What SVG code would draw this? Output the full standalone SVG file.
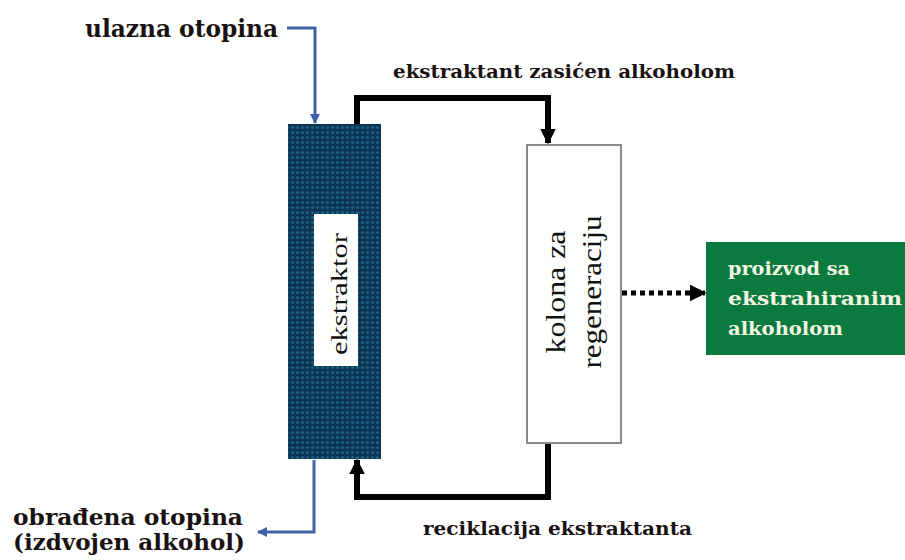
<svg xmlns="http://www.w3.org/2000/svg" width="905" height="560" viewBox="0 0 905 560">
<defs>
<pattern id="dots" width="5" height="5" patternUnits="userSpaceOnUse">
<rect width="5" height="5" fill="#0b3553"/>
<circle cx="2.5" cy="2.5" r="1.6" fill="#1d5f86"/>
</pattern>
<marker id="ab" viewBox="0 0 10 10" refX="9" refY="5" markerWidth="11" markerHeight="10" orient="auto" markerUnits="userSpaceOnUse">
<path d="M0,0 L10,5 L0,10 z" fill="#3b5fa8"/>
</marker>
<marker id="ak" viewBox="0 0 10 10" refX="9" refY="5" markerWidth="2.6" markerHeight="2.8" orient="auto">
<path d="M0,0 L10,5 L0,10 z" fill="#000"/>
</marker>
<marker id="ad" viewBox="0 0 10 10" refX="9" refY="5" markerWidth="3.4" markerHeight="3.4" orient="auto">
<path d="M0,0 L10,5 L0,10 z" fill="#000"/>
</marker>
</defs>
<style>
.lbl{font-family:"DejaVu Serif",serif;font-weight:bold;fill:#1a1212}
.grn{font-family:"DejaVu Serif",serif;font-weight:bold;fill:#f4f4e4;font-size:18px}
.rot{font-family:"Liberation Serif","Times New Roman",serif;fill:#111}
.blue{fill:none;stroke:#3f62a8;stroke-width:3}
.blk{fill:none;stroke:#000;stroke-width:6}
</style>
<rect width="905" height="560" fill="#fff"/>
<g id="connectors">
<path class="blue" d="M287,28 H315 V123" marker-end="url(#ab)"/>
<path class="blue" d="M314,460 V532 H258" marker-end="url(#ab)"/>
<path class="blk" d="M357,124 V98 H548 V143" marker-end="url(#ak)"/>
<path class="blk" d="M548,444 V497 H357 V460" marker-end="url(#ak)"/>
<path d="M622,293 H705" fill="none" stroke="#000" stroke-width="5" stroke-dasharray="5,4" marker-end="url(#ad)"/>
</g>
<g id="ekstraktor">
<rect x="288" y="124" width="93" height="335" fill="url(#dots)"/>
<rect x="314" y="214" width="44" height="152" fill="#fff"/>
<text class="rot" font-size="24" transform="translate(347,294) rotate(-90)" text-anchor="middle" textLength="122" lengthAdjust="spacingAndGlyphs">ekstraktor</text>
</g>
<g id="kolona">
<rect x="527" y="145" width="94" height="298" fill="#fff" stroke="#666" stroke-width="1.5"/>
<text class="rot" font-size="27" transform="translate(565,292) rotate(-90)" text-anchor="middle" textLength="123" lengthAdjust="spacingAndGlyphs">kolona  za</text>
<text class="rot" font-size="27" transform="translate(601,292) rotate(-90)" text-anchor="middle" textLength="153" lengthAdjust="spacingAndGlyphs">regeneraciju</text>
</g>
<g id="proizvod">
<rect x="706" y="242" width="199" height="113" fill="#0b7a3e"/>
<text class="grn" x="728" y="275" textLength="122" lengthAdjust="spacingAndGlyphs">proizvod sa</text>
<text class="grn" x="728" y="305" textLength="174" lengthAdjust="spacingAndGlyphs">ekstrahiranim</text>
<text class="grn" x="728" y="335" textLength="115" lengthAdjust="spacingAndGlyphs">alkoholom</text>
</g>
<g id="labels">
<text class="lbl" x="85" y="37" font-size="24" textLength="193" lengthAdjust="spacingAndGlyphs">ulazna otopina</text>
<text class="lbl" x="393" y="78" font-size="18" textLength="342" lengthAdjust="spacingAndGlyphs">ekstraktant zasićen alkoholom</text>
<text class="lbl" x="13" y="525" font-size="23" textLength="230" lengthAdjust="spacingAndGlyphs">obrađena otopina</text>
<text class="lbl" x="13" y="550" font-size="23" textLength="232" lengthAdjust="spacingAndGlyphs">(izdvojen alkohol)</text>
<text class="lbl" x="423" y="535" font-size="18" textLength="269" lengthAdjust="spacingAndGlyphs">reciklacija ekstraktanta</text>
</g>
</svg>
